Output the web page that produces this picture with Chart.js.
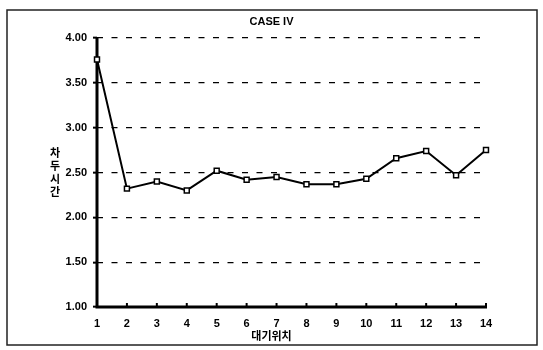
<!DOCTYPE html>
<html>
<head>
<meta charset="utf-8">
<script src="https://cdn.jsdelivr.net/npm/chart.js@4/dist/chart.umd.min.js"></script>
<style>
  html, body { margin: 0; padding: 0; background: #fff; }
  #wrap { position: relative; width: 543px; height: 350px; }
</style>
</head>
<body>
<div id="wrap"><canvas id="chart" width="543" height="350"></canvas></div>
<script>
// data
const positions = ["1","2","3","4","5","6","7","8","9","10","11","12","13","14"];
const headway = [3.76, 2.32, 2.40, 2.30, 2.52, 2.42, 2.45, 2.37, 2.37, 2.43, 2.66, 2.74, 2.47, 2.75];
const yTicks = [1.0, 1.5, 2.0, 2.5, 3.0, 3.5, 4.0];

const chartTitle = "CASE IV";
const xTitle = "대기위치";
const yTitle = ["차", "두", "시", "간"];

const LATIN = "'Liberation Sans', Arial, sans-serif";
const KR = "'Noto Sans CJK KR', sans-serif";

// frame, solid axes, titles and the small inward ticks on the category axis
const decor = {
  id: "decor",
  beforeDraw(chart) {
    const ctx = chart.ctx;
    ctx.save();
    ctx.fillStyle = "#fff";
    ctx.fillRect(0, 0, chart.width, chart.height);
    ctx.strokeStyle = "#222";
    ctx.lineWidth = 1.5;
    ctx.strokeRect(7, 10, 530, 335);
    ctx.restore();
  },
  beforeDatasetsDraw(chart) {
    const ctx = chart.ctx, xs = chart.scales.x, a = chart.chartArea;
    ctx.save();
    ctx.strokeStyle = "#000";
    ctx.lineWidth = 3;
    ctx.beginPath();
    ctx.moveTo(a.left, a.top - 1); ctx.lineTo(a.left, a.bottom); ctx.lineTo(a.right + 1, a.bottom);
    ctx.stroke();
    ctx.lineWidth = 2;
    xs.ticks.forEach((t, i) => {
      if (i === 0) return;
      const x = xs.getPixelForTick(i);
      ctx.beginPath(); ctx.moveTo(x, a.bottom); ctx.lineTo(x, a.bottom - 4); ctx.stroke();
    });
    ctx.restore();
  },
  afterDraw(chart) {
    const ctx = chart.ctx;
    ctx.save();
    ctx.fillStyle = "#000";
    ctx.textAlign = "center";
    ctx.textBaseline = "middle";
    ctx.font = "bold 11px " + LATIN;
    ctx.fillText(chartTitle, chart.width / 2, 22);
    ctx.font = "bold 11px " + KR;
    ctx.fillText(xTitle, chart.width / 2, 336);
    yTitle.forEach((c, i) => ctx.fillText(c, 55, 153 + i * 13));
    ctx.restore();
  }
};

new Chart(document.getElementById("chart"), {
  type: "line",
  data: {
    labels: positions,
    datasets: [{
      data: headway,
      borderColor: "#000",
      borderWidth: 2,
      tension: 0,
      pointStyle: "rect",
      pointRadius: 3.5,
      pointBackgroundColor: "#fff",
      pointBorderColor: "#000",
      pointBorderWidth: 1.5
    }]
  },
  options: {
    responsive: false,
    animation: false,
    devicePixelRatio: 1,
    layout: { padding: { left: 0, right: 57, top: 38, bottom: 0 } },
    plugins: { legend: { display: false }, title: { display: false }, tooltip: { enabled: false } },
    scales: {
      x: {
        offset: false,
        grid: { display: false },
        border: { display: false },
        ticks: { color: "#000", padding: 2, maxRotation: 0, autoSkip: false, font: { family: LATIN, size: 11, weight: "bold" } },
        afterFit(s) { s.height = 43; }
      },
      y: {
        min: 1, max: 4,
        afterBuildTicks(s) { s.ticks = yTicks.map(v => ({ value: v })); },
        grid: {
          color: c => c.tick && c.tick.value === 1 ? "rgba(0,0,0,0)" : "#000",
          lineWidth: 1.3,
          tickLength: 4,
          tickColor: "#000",
          tickBorderDash: [],
          tickWidth: 2
        },
        border: { display: false, dash: [6, 8.5] },
        ticks: { color: "#000", padding: 6, font: { family: LATIN, size: 11, weight: "bold" }, callback: v => Number(v).toFixed(2) },
        afterFit(s) { s.width = 97; }
      }
    }
  },
  plugins: [decor]
});
</script>
</body>
</html>
